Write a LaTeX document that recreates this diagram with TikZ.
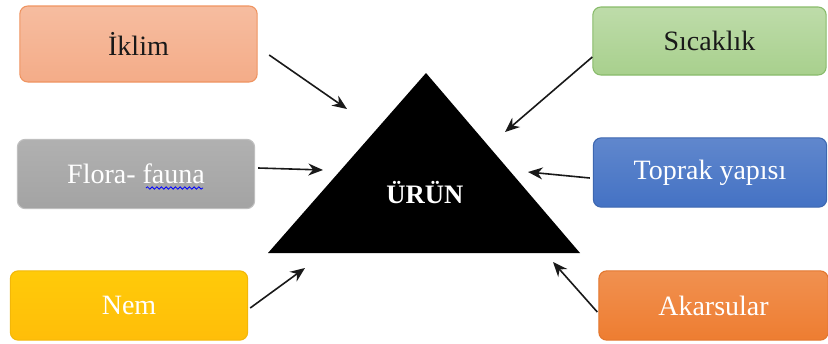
\documentclass[tikz,border=0pt]{standalone}
\usepackage{fontspec}
\setmainfont{Liberation Serif}
\usetikzlibrary{arrows.meta,decorations.pathmorphing}

\definecolor{somon}{HTML}{F4AC88}
\definecolor{somonkenar}{HTML}{EF9461}
\definecolor{gri}{HTML}{A3A3A3}
\definecolor{sari}{HTML}{FFC10A}
\definecolor{yesil}{HTML}{A8D08D}
\definecolor{yesilkenar}{HTML}{88BB6A}
\definecolor{mavi}{HTML}{4472C4}
\definecolor{turuncu}{HTML}{EE7D31}

\tikzset{
	kutu/.style={rounded corners=6pt, minimum width=178pt, minimum height=52pt, line width=0.8pt, font=\fontsize{21}{24}\selectfont},
	ok/.style={-{Stealth[length=11pt,width=9pt]}, line width=1.2pt, black!90},
}

\begin{document}
\begin{tikzpicture}[x=0.75pt, y=-0.75pt]

				\useasboundingbox (0,0) rectangle (828,343);

				\node[kutu, draw=somonkenar, top color=somon!80!white, bottom color=somon, text=black!90, minimum height=57pt] (iklim) at (138.5,44) {İklim};
				\node[kutu, draw=gri!70!white, top color=gri!85!white, bottom color=gri, text=white] (flora) at (136,174) {Flora- fauna};
				\node[kutu, draw=sari!95!black, top color=sari!85!yellow, bottom color=sari!95!orange, text=white] (nem) at (129,305.5) {Nem};

				\node[kutu, draw=yesilkenar, top color=yesil!75!white, bottom color=yesil, text=black!90, minimum width=175pt, minimum height=51pt] (sicaklik) at (709.5,41) {Sıcaklık};
				\node[kutu, draw=mavi!90!black, top color=mavi!85!white, bottom color=mavi, text=white, minimum width=175pt] (toprak) at (710,172.5) {Toprak yapısı};
				\node[kutu, draw=turuncu!95!black, top color=turuncu!85!white, bottom color=turuncu, text=white, minimum width=172pt] (akarsular) at (713.5,305.5) {Akarsular};

				\draw[blue, line width=0.6pt, decorate, decoration={snake, amplitude=0.9pt, segment length=3.5pt}] (146,188) -- (203,188);

				\coordinate (solalt) at (268,253);
				\coordinate (tepe) at (426,73);
				\coordinate (sagalt) at (580,253);
				\fill[black] (solalt) -- (tepe) -- (sagalt) -- cycle;
				\node[text=white, font=\fontsize{20}{24}\selectfont\bfseries] (urun) at (425,193) {ÜRÜN};

				\coordinate (ucIklim) at (347,109);
				\coordinate (ucFlora) at (323,170);
				\coordinate (ucNem) at (305,268);
				\coordinate (ucSicaklik) at (505,132);
				\coordinate (ucToprak) at (528,172);
				\coordinate (ucAkarsular) at (553,262);

				\draw[ok] ([shift={(11.5,11)}]iklim.east) -- (ucIklim);
				\draw[ok] ([shift={(3,-6)}]flora.east) -- (ucFlora);
				\draw[ok] ([shift={(2,2.5)}]nem.east) -- (ucNem);
				\draw[ok] ([shift={(0,16)}]sicaklik.west) -- (ucSicaklik);
				\draw[ok] ([shift={(-3,5.5)}]toprak.west) -- (ucToprak);
				\draw[ok] ([shift={(-1,6.5)}]akarsular.west) -- (ucAkarsular);

\end{tikzpicture}
\end{document}
